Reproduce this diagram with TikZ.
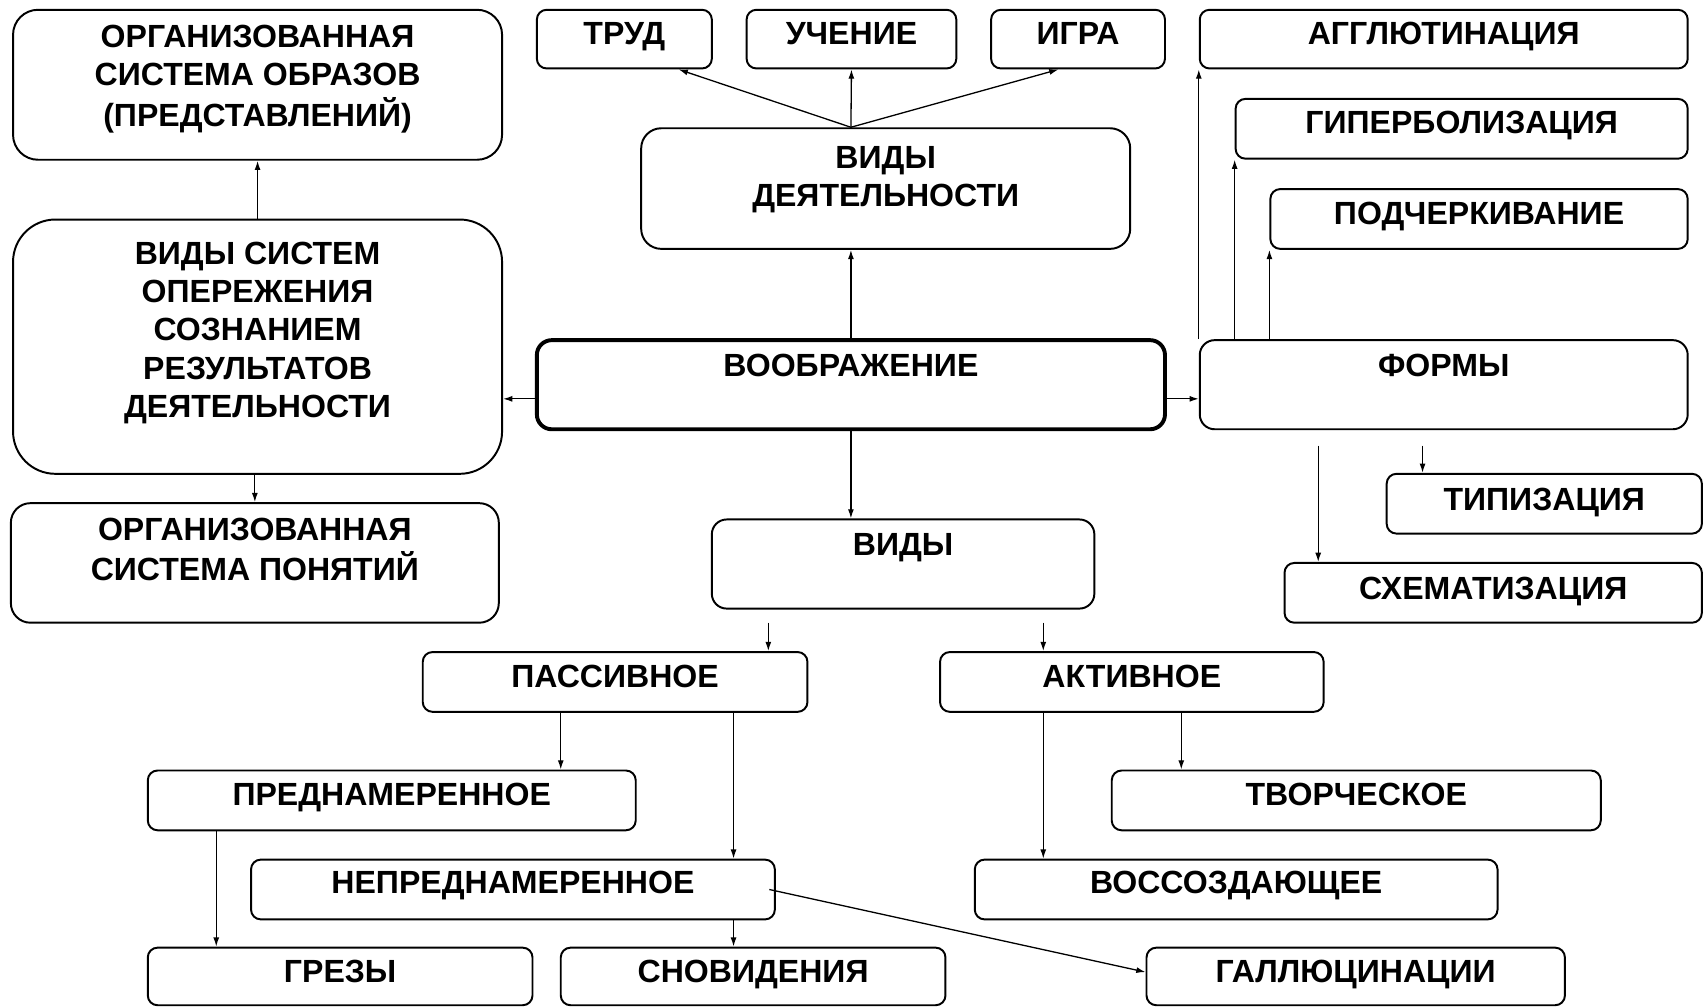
\documentclass[tikz,border=0pt]{standalone}
\usepackage{fontspec}
\setmainfont{Liberation Sans}
\usetikzlibrary{arrows.meta}
% label text: lines centred, last baseline raised by #1 (pt) from the box centre
\newcommand\lbl[2]{\raisebox{#1pt}[0pt][0pt]{\begin{tabular}[b]{@{}c@{}}#2\end{tabular}}}
\begin{document}
\begin{tikzpicture}[x=1pt,y=-1pt,
  box/.style={draw, line width=1.8pt, inner sep=0pt, fill=white,
    font=\bfseries\fontsize{29.5}{35.2}\selectfont},
  arr/.style={line width=1.2pt, -{Latex[length=8.5pt,width=5.5pt]}}]
\useasboundingbox[fill=white] (0,0) rectangle (1568,927);

% left column
\node[box, minimum width=450, minimum height=138, rounded corners=23] (orgObr) at (237,78)
  {\lbl{-38.3}{ОРГАНИЗОВАННАЯ\\СИСТЕМА ОБРАЗОВ\\(ПРЕДСТАВЛЕНИЙ)}};
\node[box, minimum width=450, minimum height=234, rounded corners=39] (vidySistem) at (237,319)
  {\lbl{-65.1}{ВИДЫ СИСТЕМ\\ОПЕРЕЖЕНИЯ\\СОЗНАНИЕМ\\РЕЗУЛЬТАТОВ\\ДЕЯТЕЛЬНОСТИ}};
\node[box, minimum width=449, minimum height=110, rounded corners=18] (orgPon) at (234.5,518)
  {\lbl{-16.3}{ОРГАНИЗОВАННАЯ\\СИСТЕМА ПОНЯТИЙ}};

% activities
\node[box, minimum width=161, minimum height=54, rounded corners=9] (trud) at (574.5,36) {\lbl{-5.3}{ТРУД}};
\node[box, minimum width=193, minimum height=54, rounded corners=9] (uchenie) at (783.5,36) {\lbl{-5.3}{УЧЕНИЕ}};
\node[box, minimum width=160, minimum height=54, rounded corners=9] (igra) at (992,36) {\lbl{-5.3}{ИГРА}};
\node[box, minimum width=450, minimum height=111, rounded corners=18.5] (vidyDeyat) at (815,173.5)
  {\lbl{-16.8}{ВИДЫ\\ДЕЯТЕЛЬНОСТИ}};

% centre
\node[box, line width=3.6pt, minimum width=578, minimum height=82, rounded corners=13.7] (voobr) at (783,354)
  {\lbl{7.7}{ВООБРАЖЕНИЕ}};

% forms
\node[box, minimum width=449, minimum height=54, rounded corners=9] (aggl) at (1328.5,36) {\lbl{-5.3}{АГГЛЮТИНАЦИЯ}};
\node[box, minimum width=416, minimum height=55, rounded corners=9] (giper) at (1345,118.5) {\lbl{-4.8}{ГИПЕРБОЛИЗАЦИЯ}};
\node[box, minimum width=384, minimum height=55, rounded corners=9] (podch) at (1361,201.5) {\lbl{-4.8}{ПОДЧЕРКИВАНИЕ}};
\node[box, minimum width=449, minimum height=82, rounded corners=13.7] (formy) at (1328.5,354) {\lbl{7.7}{ФОРМЫ}};
\node[box, minimum width=290, minimum height=55, rounded corners=9] (tipiz) at (1421,463.5) {\lbl{-5.8}{ТИПИЗАЦИЯ}};
\node[box, minimum width=384, minimum height=55, rounded corners=9] (schem) at (1374,545.5) {\lbl{-5.8}{СХЕМАТИЗАЦИЯ}};

% kinds
\node[box, minimum width=352, minimum height=82, rounded corners=13.7] (vidy) at (831,519) {\lbl{7.7}{ВИДЫ}};
\node[box, minimum width=354, minimum height=55, rounded corners=9] (passiv) at (566,627.5) {\lbl{-4.8}{ПАССИВНОЕ}};
\node[box, minimum width=353, minimum height=55, rounded corners=9] (aktiv) at (1041.5,627.5) {\lbl{-4.8}{АКТИВНОЕ}};
\node[box, minimum width=449, minimum height=55, rounded corners=9] (prednam) at (360.5,736.5) {\lbl{-4.8}{ПРЕДНАМЕРЕННОЕ}};
\node[box, minimum width=450, minimum height=55, rounded corners=9] (tvorch) at (1248,736.5) {\lbl{-4.8}{ТВОРЧЕСКОЕ}};
\node[box, minimum width=482, minimum height=55, rounded corners=9] (nepred) at (472,818.5) {\lbl{-3.8}{НЕПРЕДНАМЕРЕННОЕ}};
\node[box, minimum width=481, minimum height=55, rounded corners=9] (vossoz) at (1137.5,818.5) {\lbl{-3.8}{ВОССОЗДАЮЩЕЕ}};
\node[box, minimum width=354, minimum height=53, rounded corners=9] (grezy) at (313,898.5) {\lbl{-5.8}{ГРЕЗЫ}};
\node[box, minimum width=354, minimum height=53, rounded corners=9] (snovid) at (693,898.5) {\lbl{-5.8}{СНОВИДЕНИЯ}};
\node[box, minimum width=385, minimum height=53, rounded corners=9] (gallyuc) at (1247.5,898.5) {\lbl{-5.8}{ГАЛЛЮЦИНАЦИИ}};

% helper coordinates for connector lines
\coordinate (hA) at (0,367);
\coordinate (fS) at (1213,410);
\coordinate (fT) at (1309,410);
\coordinate (vA) at (707,573);
\coordinate (vB) at (960,573);
\coordinate (xG) at (199,0);
\coordinate (xP1) at (516,0);
\coordinate (xP2) at (675,0);
\coordinate (xA1) at (960,0);
\coordinate (xA2) at (1087,0);
\coordinate (vdTop) at (vidyDeyat.north -| voobr.north);

% connectors
\draw[arr] (vidySistem.north) -- (orgObr.south);
\draw[arr] (vidySistem.south -| orgPon.north) -- (orgPon.north);
\draw[arr] (voobr.west |- hA) -- (vidySistem.east |- hA);
\draw[arr] (voobr.east |- hA) -- (formy.west |- hA);
\draw[arr] (voobr.north) -- (vidyDeyat.south -| voobr.north);
\draw[arr] (vdTop) -- ([xshift=50]trud.south);
\draw[arr] (vdTop) -- (uchenie.south);
\draw[arr] (vdTop) -- ([xshift=-18]igra.south);
\draw[arr] (voobr.south) -- (vidy.north -| voobr.south);
\draw[arr] (formy.north west) -- (aggl.south west);
\draw[arr] (formy.north -| giper.south west) -- (giper.south west);
\draw[arr] (formy.north -| podch.south west) -- (podch.south west);
\draw[arr] (fS) -- (fS |- schem.north);
\draw[arr] (fT) -- (fT |- tipiz.north);
\draw[arr] (vA) -- (vA |- passiv.north);
\draw[arr] (vB) -- (vB |- aktiv.north);
\draw[arr] (passiv.south -| xP1) -- (prednam.north -| xP1);
\draw[arr] (passiv.south -| xP2) -- (nepred.north -| xP2);
\draw[arr] (aktiv.south -| xA1) -- (vossoz.north -| xA1);
\draw[arr] (aktiv.south -| xA2) -- (tvorch.north -| xA2);
\draw[arr] (prednam.south -| xG) -- (grezy.north -| xG);
\draw[arr] (nepred.south -| xP2) -- (snovid.north -| xP2);
\draw[arr] ([xshift=-6]nepred.east) -- ([yshift=4]gallyuc.west);
\end{tikzpicture}
\end{document}
